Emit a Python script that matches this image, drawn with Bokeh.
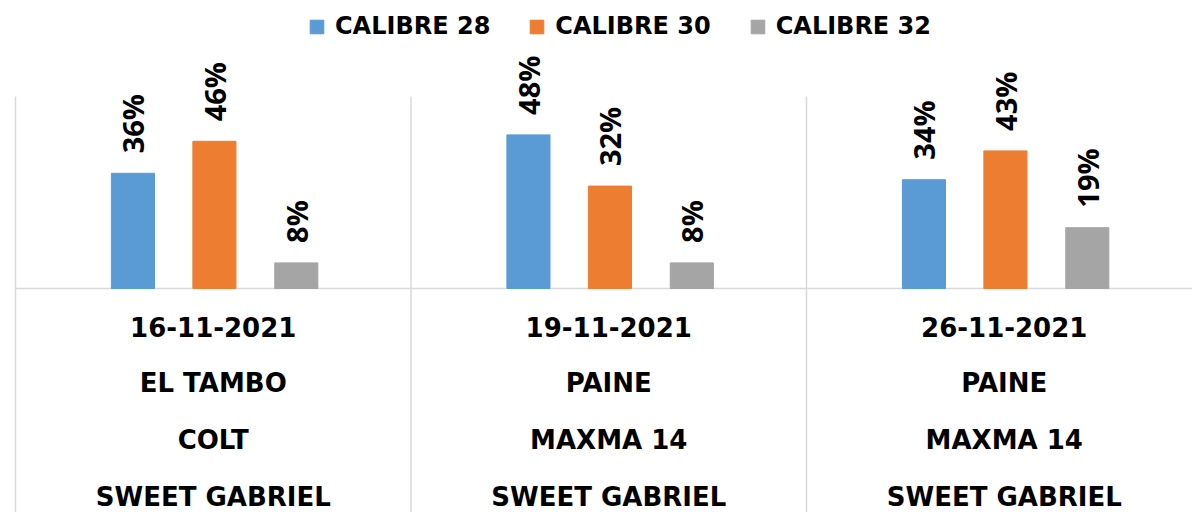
import numpy as np
from bokeh.plotting import figure
from bokeh.models import ColumnDataSource, Legend, LegendItem, Range1d
from bokeh.core.properties import value
from bokeh.embed import file_html
from bokeh.resources import INLINE

# ---- data ----
dates = ["16-11-2021", "19-11-2021", "26-11-2021"]
places = ["EL TAMBO", "PAINE", "PAINE"]
varieties = ["COLT", "MAXMA 14", "MAXMA 14"]
cultivars = ["SWEET GABRIEL", "SWEET GABRIEL", "SWEET GABRIEL"]
series_names = ["CALIBRE 28", "CALIBRE 30", "CALIBRE 32"]
calibre_28 = [36, 48, 34]
calibre_30 = [46, 32, 43]
calibre_32 = [8, 8, 19]
axis_max = 60

# ---- styles ----
colors = ["#5B9BD5", "#ED7D31", "#A5A5A5"]
offsets = [-0.203, 0.003, 0.21]
bar_width = 0.109
grid_color = "#D9D9D9"
cat_font = "DejaVu Sans"
lbl_font = "Open Sans"

n = len(dates)
centers = [i + 0.5 for i in range(n)]

p = figure(width=1192, height=512, output_backend="svg", toolbar_location=None,
           x_range=Range1d(-0.0379, 2.976), y_range=Range1d(-70, 90),
           x_axis_location=None, y_axis_location=None, min_border=0)
p.grid.visible = False
p.outline_line_color = None
p.background_fill_color = "white"

# baseline and group separators
p.segment(x0=[0], y0=[0], x1=[n + 0.5], y1=[0], line_color=grid_color, line_width=1.5)
p.segment(x0=list(range(n)), y0=[axis_max] * n, x1=list(range(n)), y1=[-100] * n,
          line_color=grid_color, line_width=1.5)

renderers = []
for j, (name, vals) in enumerate(zip(series_names, [calibre_28, calibre_30, calibre_32])):
    src = ColumnDataSource(dict(
        x=[c + offsets[j] for c in centers],
        top=vals,
        label=[f"{v}%" for v in vals],
    ))
    r = p.vbar(x="x", top="top", bottom=0, width=bar_width, source=src,
               fill_color=colors[j], line_color=colors[j])
    renderers.append(r)
    p.text(x="x", y="top", text="label", source=src, angle=np.pi / 2,
           text_align="left", text_baseline="middle", y_offset=-20,
           text_font=value(lbl_font), text_font_style="bold",
           text_font_size="29px", text_color="black")

# category labels (4 lines)
for k, row in enumerate([dates, places, varieties, cultivars]):
    src = ColumnDataSource(dict(x=centers, y=[0] * n, text=row))
    p.text(x="x", y="y", text="text", source=src, y_offset=38 + 56.7 * k,
           text_align="center", text_baseline="middle",
           text_font=value(cat_font), text_font_style="bold",
           text_font_size="26px", text_color="black")

legend = Legend(items=[LegendItem(label=nm, renderers=[r]) for nm, r in zip(series_names, renderers)],
                orientation="horizontal", location=(308, 472),
                glyph_width=17, glyph_height=17, label_standoff=10, spacing=38,
                padding=0, margin=0, border_line_color=None, background_fill_alpha=0,
                label_text_font="DejaVu Sans", label_text_font_style="bold",
                label_text_font_size="24px", label_text_color="black")
p.add_layout(legend)

open("out.html", "w").write(file_html(p, INLINE))
